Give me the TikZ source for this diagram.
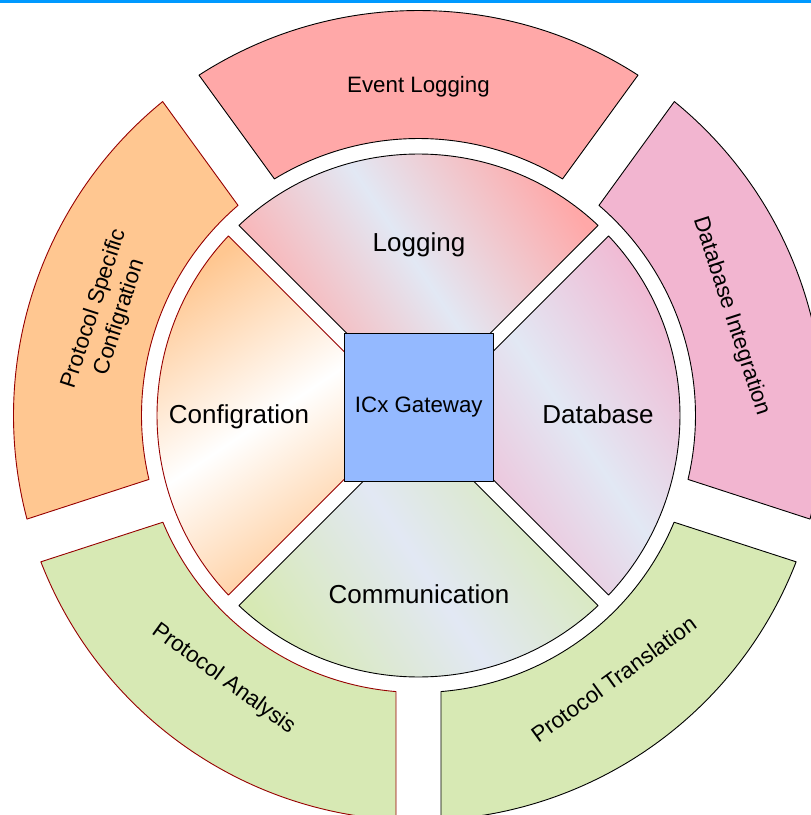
\documentclass[tikz,border=0pt]{standalone}
\usepackage{fontspec}
\setmainfont{Liberation Sans}
\definecolor{topblue}{RGB}{0,153,255}
\definecolor{elpink}{RGB}{255,168,168}
\definecolor{dipink}{RGB}{242,181,208}
\definecolor{grn}{RGB}{215,233,180}
\definecolor{orng}{RGB}{255,199,145}
\definecolor{dred}{RGB}{150,0,0}
\definecolor{sqblue}{RGB}{148,185,255}
\definecolor{lightb}{RGB}{226,232,244}
\pgfdeclarehorizontalshading{logshade}{100bp}{color(0bp)=(elpink); color(25bp)=(elpink); color(50bp)=(lightb); color(75bp)=(elpink); color(100bp)=(elpink)}
\pgfdeclarehorizontalshading{dbshade}{100bp}{color(0bp)=(dipink); color(25bp)=(dipink); color(50bp)=(lightb); color(75bp)=(dipink); color(100bp)=(dipink)}
\pgfdeclarehorizontalshading{comshade}{100bp}{color(0bp)=(grn); color(25bp)=(grn); color(50bp)=(lightb); color(75bp)=(grn); color(100bp)=(grn)}
\pgfdeclarehorizontalshading{cfgshade}{100bp}{color(0bp)=(orng); color(25bp)=(orng); color(50bp)=(white); color(75bp)=(orng); color(100bp)=(orng)}
\begin{document}
\begin{tikzpicture}[x=1pt,y=1pt,line join=round,
  blk/.style={draw=black,line width=0.9pt},
  rdk/.style={draw=dred,line width=0.9pt},
  innerlbl/.style={font=\fontsize{26}{30}\selectfont,inner sep=0pt},
  outerlbl/.style={font=\fontsize{22.3}{27}\selectfont,inner sep=0pt,align=center}]
\useasboundingbox (-418.5,-399.5) rectangle (392.5,415.5);
\fill[topblue] (-418.5,412.5) rectangle (392.5,415.5);
% outer ring
\fill[elpink,blk] (57.18:405) arc[start angle=57.18,end angle=122.82,radius=405] -- (121.34:277) arc[start angle=121.34,end angle=58.66,radius=277] -- cycle;
\fill[dipink,blk] (-14.82:405) arc[start angle=-14.82,end angle=50.82,radius=405] -- (49.34:277) arc[start angle=49.34,end angle=-13.34,radius=277] -- cycle;
\fill[grn,blk] (-86.82:405) arc[start angle=-86.82,end angle=-21.18,radius=405] -- (-22.66:277) arc[start angle=-22.66,end angle=-85.34,radius=277] -- cycle;
\fill[grn,rdk] (-158.82:405) arc[start angle=-158.82,end angle=-93.18,radius=405] -- (-94.66:277) arc[start angle=-94.66,end angle=-157.34,radius=277] -- cycle;
\fill[orng,rdk] (129.18:405) arc[start angle=129.18,end angle=194.82,radius=405] -- (193.34:277) arc[start angle=193.34,end angle=130.66,radius=277] -- cycle;
% inner sectors
\shade[shading=logshade,shading angle=33.7,blk] (90:10.6) -- (46.64:261.5) arc[start angle=46.64,end angle=133.36,radius=261.5] -- cycle;
\shade[shading=cfgshade,shading angle=-56.3,rdk] (180:10.6) -- (136.64:261.5) arc[start angle=136.64,end angle=223.36,radius=261.5] -- cycle;
\shade[shading=comshade,shading angle=33.7,blk] (270:10.6) -- (226.64:261.5) arc[start angle=226.64,end angle=313.36,radius=261.5] -- cycle;
\shade[shading=dbshade,shading angle=33.7,blk] (0:10.6) -- (-43.36:261.5) arc[start angle=-43.36,end angle=43.36,radius=261.5] -- cycle;
% centre
\node[draw=black,line width=0.9pt,fill=sqblue,minimum width=149pt,minimum height=148pt,inner sep=0pt,font=\fontsize{22.3}{26}\selectfont] (gw) at (0.3,8.5) {ICx Gateway};
% inner labels
\node[innerlbl] (log) at (0.5,170.5) {Logging};
\node[innerlbl] (cfg) at (-179.5,-1) {Configration};
\node[innerlbl] (db) at (179.5,1.5) {Database};
\node[innerlbl] (com) at (0.5,-178.5) {Communication};
% outer labels
\node[outerlbl] (el) at (90:328.5) {Event Logging};
\node[outerlbl,rotate=-72] (di) at (17.6:328) {Database Integration};
\node[outerlbl,rotate=36] (pt) at (-53.5:328) {Protocol Translation};
\node[outerlbl,rotate=-36] (pa) at (-126.5:328) {Protocol Analysis};
\node[outerlbl,rotate=72] (psc) at (161.8:328) {Protocol Specific\\Configration};
\end{tikzpicture}
\end{document}
